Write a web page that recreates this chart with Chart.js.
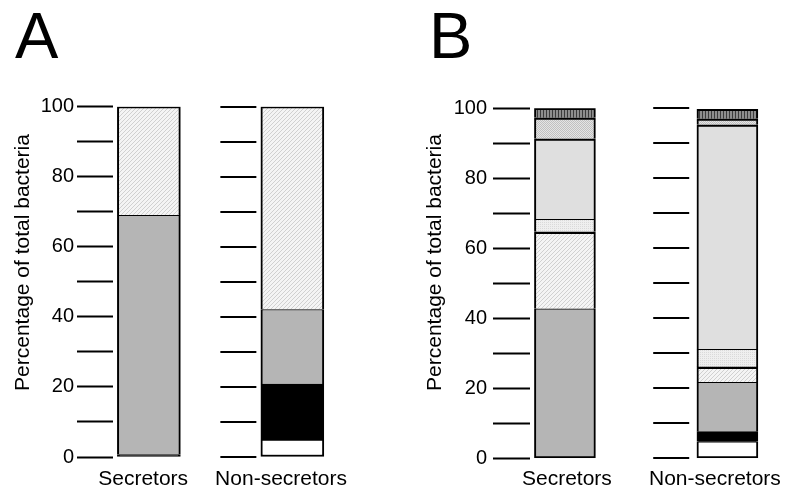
<!DOCTYPE html>
<html>
<head>
<meta charset="utf-8">
<script src="https://cdn.jsdelivr.net/npm/chart.js@4.4.1/dist/chart.umd.min.js"></script>
<style>
  html, body { margin: 0; padding: 0; background: #fff; }
  #wrap { position: relative; width: 787px; height: 494px; overflow: hidden; }
  canvas { position: absolute; top: 0; }
</style>
</head>
<body>
<div id="wrap">
  <canvas id="panelA" width="414" height="494" style="left:0"></canvas>
  <canvas id="panelB" width="373" height="494" style="left:414px"></canvas>
</div>
<script>
const GROUPS = ['Secretors', 'Non-secretors'];
const Y_TITLE = 'Percentage of total bacteria';
const Y_MAX = 100;
const Y_TICK_STEP = 10;
const Y_LABEL_STEP = 20;

// segments, bottom of the bar to the top
const SEGMENTS = ['open', 'black', 'gray', 'hatch', 'band1', 'dots', 'light', 'band2', 'stipple', 'band3', 'stripes'];

// panel A (%)
const A_SECRETORS    = [0,   0.7,  68.3, 31.0, 0, 0, 0, 0, 0, 0, 0];
const A_NONSECRETORS = [4.8, 16.0, 21.3, 57.9, 0, 0, 0, 0, 0, 0, 0];
// panel B (%)
const B_SECRETORS    = [0,   0,   42.7, 21.6, 0.4, 3.6, 22.6, 0.4, 5.6, 0.4, 2.7];
const B_NONSECRETORS = [4.7, 2.9, 14.1, 4.0,  0.4, 5.0, 63.8, 0.4, 1.3, 0.4, 2.7];

const FONT = '"Liberation Sans", Arial, Helvetica, sans-serif';
Chart.defaults.font.family = FONT;
Chart.defaults.color = '#000';

function tile(w, h, bg, fg, pts) {
  const c = document.createElement('canvas');
  c.width = w; c.height = h;
  const g = c.getContext('2d');
  g.fillStyle = bg; g.fillRect(0, 0, w, h);
  g.fillStyle = fg;
  pts.forEach(([x, y]) => g.fillRect(x, y, 1, 1));
  return g.createPattern(c, 'repeat');
}

const FILLS = {
  open: '#ffffff',
  black: '#000000',
  gray: '#b5b5b5',
  hatch: tile(4, 4, '#f4f4f4', '#d0d0d0', [[0, 3], [1, 2], [2, 1], [3, 0]]),
  band1: '#000000',
  dots: tile(2, 2, '#efefef', '#dadada', [[0, 0]]),
  light: '#dfdfdf',
  band2: '#000000',
  stipple: tile(2, 2, '#e4e4e4', '#c0c0c0', [[0, 0], [1, 1]]),
  band3: '#000000',
  stripes: tile(3, 1, '#8e8e8e', '#3c3c3c', [[0, 0]])
};

// outer edges 2px, joints between segments 1px
function edgeWidth(ctx) {
  const ds = ctx.chart.data.datasets;
  const i = ctx.datasetIndex, j = ctx.dataIndex;
  const below = ds.slice(0, i).some(d => d.data[j].y);
  const above = ds.slice(i + 1).some(d => d.data[j].y);
  return {left: 2, right: 2, bottom: below ? 0 : 2, top: above ? 1 : 2};
}

const decor = {
  id: 'decor',
  afterDraw(chart, args, o) {
    const {ctx} = chart;
    const x = chart.scales.x, y = chart.scales.y;
    ctx.save();
    ctx.fillStyle = '#000';
    ctx.strokeStyle = '#000';

    ctx.font = '65px ' + FONT;
    ctx.textAlign = 'left';
    ctx.textBaseline = 'alphabetic';
    ctx.fillText(o.letter, o.letterX, 57.5);

    ctx.save();
    ctx.translate(o.titleX, 262.5);
    ctx.rotate(-Math.PI / 2);
    ctx.font = '21px ' + FONT;
    ctx.textAlign = 'center';
    ctx.textBaseline = 'middle';
    ctx.fillText(Y_TITLE, 0, 0);
    ctx.restore();

    // tick marks next to the second bar
    const end = x.getPixelForValue(2) - o.barW / 2 - o.gap;
    ctx.lineWidth = 2;
    for (let v = 0; v <= Y_MAX; v += Y_TICK_STEP) {
      const py = Math.round(y.getPixelForValue(v));
      ctx.beginPath();
      ctx.moveTo(end - 36, py);
      ctx.lineTo(end, py);
      ctx.stroke();
    }

    ctx.font = '21px ' + FONT;
    ctx.textAlign = 'center';
    GROUPS.forEach((g, i) => {
      ctx.fillText(g, x.getPixelForValue(i + 1) + o.labelShift[i], 485);
    });
    ctx.restore();
  }
};

function makePanel(id, sec, non, lay) {
  return new Chart(document.getElementById(id), {
    type: 'bar',
    data: {
      datasets: SEGMENTS.map((name, i) => ({
        label: name,
        data: [sec[i], non[i]].map((v, j) => ({x: j + 1, y: v || null})),
        backgroundColor: FILLS[name],
        borderColor: '#000',
        borderWidth: edgeWidth,
        borderSkipped: false,
        barThickness: lay.barW
      }))
    },
    options: {
      responsive: false,
      animation: false,
      devicePixelRatio: 1,
      layout: {padding: {left: 0, right: lay.padRight, top: lay.top, bottom: lay.padBottom}},
      plugins: {
        legend: {display: false},
        tooltip: {enabled: false},
        decor: lay
      },
      scales: {
        x: {type: 'linear', stacked: true, offset: false, min: lay.xMin, max: lay.xMax, display: false},
        y: {
          stacked: true,
          min: 0,
          max: Y_MAX,
          afterFit: s => { s.width = lay.axisW; },
          border: {display: false},
          grid: {drawOnChartArea: false, tickLength: lay.tickLen, tickWidth: 2, tickColor: '#000'},
          ticks: {
            stepSize: Y_TICK_STEP,
            autoSkip: false,
            padding: lay.labelPad,
            color: '#000',
            font: {size: 20},
            callback: v => (v % Y_LABEL_STEP === 0 ? v : '')
          }
        }
      }
    },
    plugins: [decor]
  });
}

makePanel('panelA', A_SECRETORS, A_NONSECRETORS, {
  letter: 'A', letterX: 15, titleX: 23,
  top: 106.7, padBottom: 37, padRight: 78.6,
  axisW: 113, tickLen: 36, labelPad: 3,
  xMin: 0.75, xMax: 2.3, barW: 63, gap: 4.5,
  labelShift: [-5.7, -11.3]
});

makePanel('panelB', B_SECRETORS, B_NONSECRETORS, {
  letter: 'B', letterX: 15, titleX: 21.5,
  top: 108.3, padBottom: 35.7, padRight: 27.1,
  axisW: 116, tickLen: 37, labelPad: 6,
  xMin: 0.785, xMax: 2.2, barW: 61, gap: 7.7,
  labelShift: [2, -12.5]
});
</script>
</body>
</html>
